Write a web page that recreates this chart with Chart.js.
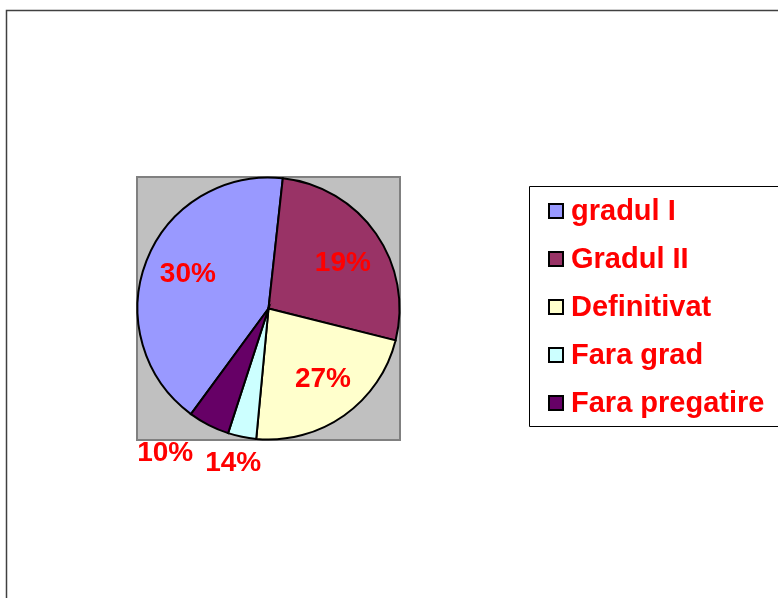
<!DOCTYPE html>
<html>
<head>
<meta charset="utf-8">
<script src="https://cdn.jsdelivr.net/npm/chart.js@4/dist/chart.umd.min.js"></script>
<style>
  html, body { margin: 0; padding: 0; background: #ffffff; }
  #wrap { width: 778px; height: 598px; position: relative; }
</style>
</head>
<body>
<div id="wrap"><canvas id="c" width="778" height="598"></canvas></div>
<script>
// ---- data ----
const categories = ['gradul I', 'Gradul II', 'Definitivat', 'Fara grad', 'Fara pregatire'];
const sliceValues = [41.7, 27.2, 22.6, 3.5, 5.1];
const labelTexts = ['30%', '19%', '27%', '14%', '10%'];

// ---- styles ----
const sliceColors = ['#9999FF', '#993366', '#FFFFCC', '#CCFFFF', '#660066'];
const labelRadiusFactor = [0.67, 0.665, 0.68, 1.21, 1.36];
const labelAngleShift = [2, 3.4, -2.4, 1.2, 8.3];
const FONT = '"Liberation Sans", Arial, sans-serif';

const framePlugin = {
  id: 'frame',
  beforeDraw(chart) {
    const ctx = chart.ctx;
    ctx.save();
    ctx.fillStyle = '#ffffff';
    ctx.fillRect(0, 0, chart.width, chart.height);
    ctx.strokeStyle = '#404040';
    ctx.lineWidth = 1.5;
    ctx.beginPath();
    ctx.moveTo(6.5, chart.height);
    ctx.lineTo(6.5, 10.5);
    ctx.lineTo(chart.width, 10.5);
    ctx.stroke();
    const a = chart.chartArea;
    ctx.fillStyle = '#C0C0C0';
    ctx.fillRect(a.left, a.top, a.right - a.left, a.bottom - a.top);
    ctx.strokeStyle = '#808080';
    ctx.lineWidth = 2;
    ctx.strokeRect(a.left, a.top, a.right - a.left, a.bottom - a.top);
    ctx.restore();
  }
};

const labelPlugin = {
  id: 'sliceLabels',
  afterDatasetsDraw(chart) {
    const ctx = chart.ctx;
    const meta = chart.getDatasetMeta(0);
    ctx.save();
    ctx.font = 'bold 28px ' + FONT;
    ctx.fillStyle = '#FF0000';
    ctx.textAlign = 'center';
    ctx.textBaseline = 'middle';
    meta.data.forEach((arc, i) => {
      const p = arc.getProps(['x', 'y', 'startAngle', 'endAngle', 'outerRadius'], true);
      const mid = (p.startAngle + p.endAngle) / 2 + labelAngleShift[i] * Math.PI / 180;
      const r = p.outerRadius * labelRadiusFactor[i];
      ctx.fillText(labelTexts[i], p.x + Math.cos(mid) * r, p.y + Math.sin(mid) * r);
    });
    ctx.restore();
  }
};

const legendPlugin = {
  id: 'boxLegend',
  afterDraw(chart) {
    const ctx = chart.ctx;
    const left = 529.5, top = 186.5, bottom = 426.5;
    ctx.save();
    ctx.fillStyle = '#ffffff';
    ctx.fillRect(left, top, chart.width - left, bottom - top);
    ctx.strokeStyle = '#000000';
    ctx.lineWidth = 1;
    ctx.beginPath();
    ctx.moveTo(chart.width + 1, top);
    ctx.lineTo(left, top);
    ctx.lineTo(left, bottom);
    ctx.lineTo(chart.width + 1, bottom);
    ctx.stroke();
    const ds = chart.data.datasets[0];
    ctx.font = 'bold 29px ' + FONT;
    ctx.textAlign = 'left';
    ctx.textBaseline = 'middle';
    chart.data.labels.forEach((lab, i) => {
      const cy = 211 + i * 48;
      ctx.fillStyle = ds.backgroundColor[i];
      ctx.fillRect(549, cy - 7, 14, 14);
      ctx.strokeStyle = '#000000';
      ctx.lineWidth = 2;
      ctx.strokeRect(549, cy - 7, 14, 14);
      ctx.fillStyle = '#FF0000';
      ctx.fillText(lab, 571, cy + 1);
    });
    ctx.restore();
  }
};

new Chart(document.getElementById('c'), {
  type: 'pie',
  data: {
    labels: categories,
    datasets: [{
      data: sliceValues,
      backgroundColor: sliceColors,
      borderColor: '#000000',
      borderWidth: 2,
      borderJoinStyle: 'miter'
    }]
  },
  options: {
    responsive: false,
    animation: false,
    rotation: 216.3,
    radius: 131,
    layout: { padding: { left: 137, top: 177, right: 378, bottom: 158 } },
    plugins: {
      legend: { display: false },
      tooltip: { enabled: false }
    }
  },
  plugins: [framePlugin, labelPlugin, legendPlugin]
});
</script>
</body>
</html>
